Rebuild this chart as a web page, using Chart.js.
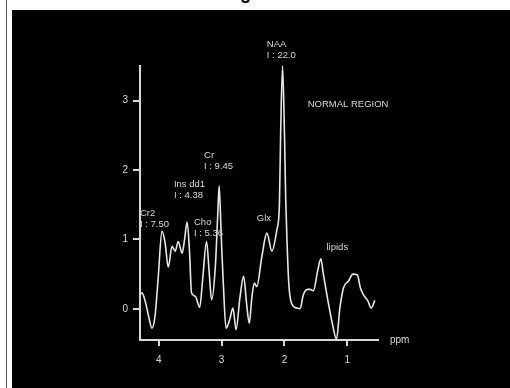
<!DOCTYPE html>
<html>
<head>
<meta charset="utf-8">
<script src="https://cdn.jsdelivr.net/npm/chart.js@4/dist/chart.umd.min.js"></script>
<style>
  body { margin: 0; background: #fff; width: 510px; height: 388px; overflow: hidden; position: relative; }
  #edge { position: absolute; left: 6px; top: 0; width: 1px; height: 388px; background: #555; }
  #titleFrag { position: absolute; left: 240px; top: -16px; font: bold 18px "Liberation Sans", Arial, sans-serif; line-height: 18px; color: #000; }
  #panel { position: absolute; left: 12px; top: 10px; width: 498px; height: 378px; background: #000; }
  canvas { display: block; }
</style>
</head>
<body>
<div id="edge"></div>
<div id="titleFrag">g</div>
<div id="panel"><canvas id="spectrum" width="498" height="378"></canvas></div>
<script>
// chemical shift (ppm) and signal intensity
const ppm = [4.30, 4.27, 4.22, 4.16, 4.11, 4.06, 4.01, 3.95, 3.90, 3.85, 3.79, 3.74, 3.69, 3.63, 3.59, 3.55,
  3.51, 3.48, 3.42, 3.35, 3.30, 3.24, 3.20, 3.16, 3.10, 3.06, 3.04, 3.02, 3.00, 2.97, 2.93, 2.87, 2.82, 2.77,
  2.71, 2.65, 2.60, 2.56, 2.52, 2.48, 2.44, 2.36, 2.28, 2.20, 2.12, 2.08, 2.06, 2.03, 2.00, 1.98, 1.96, 1.93,
  1.90, 1.85, 1.80, 1.75, 1.70, 1.63, 1.59, 1.54, 1.47, 1.42, 1.38, 1.31, 1.24, 1.17, 1.12, 1.06, 0.98, 0.91,
  0.84, 0.79, 0.74, 0.67, 0.62, 0.56];
const intensity = [0.20, 0.23, 0.12, -0.12, -0.28, -0.10, 0.45, 1.12, 0.95, 0.60, 0.90, 0.83, 0.97, 0.80, 1.00, 1.25,
  0.80, 0.23, 0.18, 0.02, 0.45, 0.97, 0.55, 0.13, 0.61, 1.40, 1.77, 1.40, 0.90, 0.30, -0.28, -0.15, 0.01, -0.30,
  0.15, 0.47, 0.05, -0.21, 0.15, 0.37, 0.32, 0.75, 1.09, 0.83, 1.14, 1.50, 2.54, 3.50, 2.54, 1.60, 1.00, 0.35,
  0.12, 0.03, 0.01, 0.00, 0.20, 0.28, 0.28, 0.26, 0.55, 0.72, 0.50, 0.13, -0.20, -0.44, -0.01, 0.30, 0.40, 0.50,
  0.49, 0.30, 0.20, 0.11, 0.01, 0.12];

const xTicks = [4, 3, 2, 1];
const yTicks = [0, 1, 2, 3];

// peak annotations: text lines and their anchor in data units
const noteLines = [["NAA", "I : 22.0"], ["NORMAL REGION"], ["Cr", "I : 9.45"], ["Ins dd1", "I : 4.38"],
  ["Cr2", "I : 7.50"], ["Cho", "I : 5.36"], ["Glx"], ["lipids"]];
const notePpm = [2.28, 1.63, 3.28, 3.76, 4.30, 3.44, 2.44, 1.33];
const noteVal = [3.81, 2.94, 2.21, 1.79, 1.37, 1.24, 1.30, 0.88];

const fg = "#d8d8d8";

const notes = {
  id: "notes",
  afterDatasetsDraw(chart) {
    const ctx = chart.ctx;
    const xs = chart.scales.x, ys = chart.scales.y;
    ctx.save();
    ctx.fillStyle = fg;
    ctx.font = "9.5px 'Liberation Sans', Arial, sans-serif";
    ctx.textAlign = "left";
    ctx.textBaseline = "middle";
    noteLines.forEach((lines, i) => {
      const x = xs.getPixelForValue(notePpm[i]);
      const y = ys.getPixelForValue(noteVal[i]);
      lines.forEach((t, j) => ctx.fillText(t, x, y + j * 11));
    });
    ctx.font = "10px 'Liberation Sans', Arial, sans-serif";
    ctx.fillText("ppm", chart.chartArea.right + 12, chart.chartArea.bottom);
    ctx.restore();
  }
};

const axisStyle = {
  grid: { display: true, drawOnChartArea: false, drawTicks: true, color: fg, lineWidth: 2 },
  border: { display: true, color: fg, width: 2 },
};

new Chart(document.getElementById("spectrum").getContext("2d"), {
  type: "line",
  data: {
    datasets: [{
      data: ppm.map((p, i) => ({ x: p, y: intensity[i] })),
      borderColor: "#e8e8e8",
      borderWidth: 1.6,
      pointRadius: 0,
      fill: false,
      cubicInterpolationMode: "monotone",
      clip: false,
    }],
  },
  options: {
    responsive: false,
    animation: false,
    devicePixelRatio: 1,
    layout: { padding: { top: 56, right: 132, left: 0, bottom: 0 } },
    plugins: { legend: { display: false }, tooltip: { enabled: false }, title: { display: false } },
    scales: {
      x: {
        type: "linear",
        reverse: true,
        min: 0.51,
        max: 4.30,
        afterBuildTicks: s => { s.ticks = xTicks.map(v => ({ value: v })); },
        afterFit: s => { s.height = 48; },
        grid: { ...axisStyle.grid, tickLength: 6 },
        border: axisStyle.border,
        ticks: { color: fg, padding: 8, font: { size: 10, family: "'Liberation Sans', Arial, sans-serif" } },
      },
      y: {
        min: -0.45,
        max: 3.5,
        afterBuildTicks: s => { s.ticks = yTicks.map(v => ({ value: v })); },
        afterFit: s => { s.width = 128; },
        grid: { ...axisStyle.grid, tickLength: 7 },
        border: axisStyle.border,
        ticks: { color: fg, padding: 5, font: { size: 10, family: "'Liberation Sans', Arial, sans-serif" } },
      },
    },
  },
  plugins: [notes],
});
</script>
</body>
</html>
